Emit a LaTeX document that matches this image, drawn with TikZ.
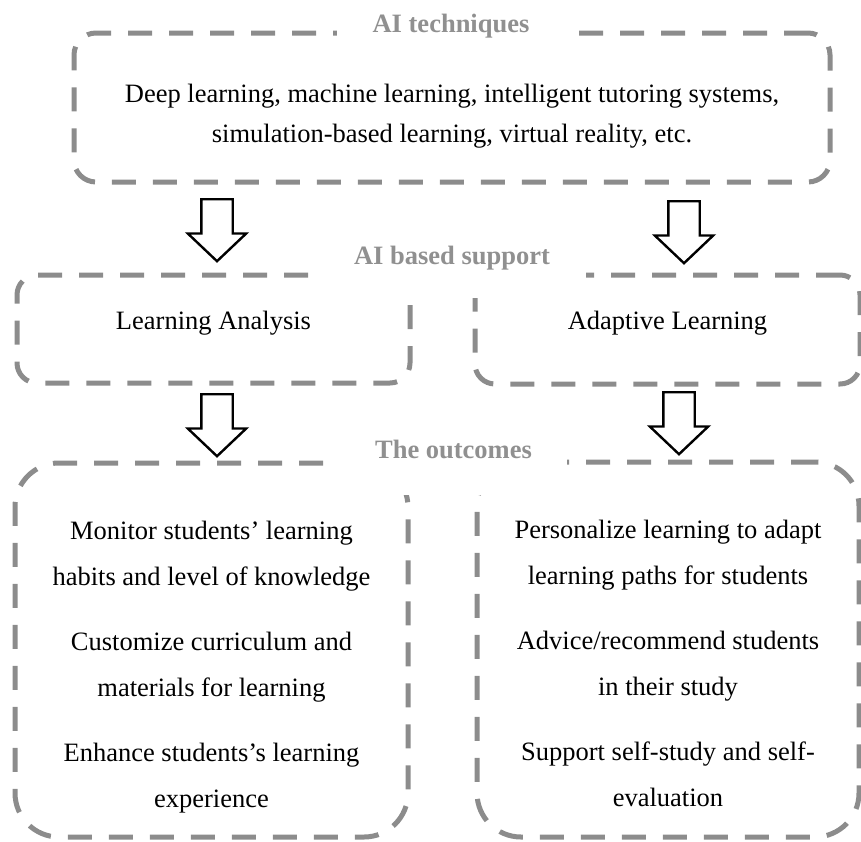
\documentclass[tikz,border=0pt]{standalone}
\usepackage{fontspec}
\setmainfont{Liberation Serif}
\usetikzlibrary{shapes.arrows}
\definecolor{dashgray}{HTML}{8C8C8C}
\definecolor{titlegray}{HTML}{909090}

\begin{document}
\begin{tikzpicture}[x=0.5pt, y=-0.5pt, font=\fontsize{13.25}{23}\selectfont,
  dashbox/.style={draw=dashgray, line width=2.5pt, dash pattern=on 12pt off 8.5pt,
    rounded corners=#1, align=center, inner sep=0pt},
  dashbox/.default=11pt,
  boxtitle/.style={fill=white, text=titlegray, font=\fontsize{13.25}{16}\selectfont\bfseries,
    inner ysep=2pt, anchor=base},
  bigarrow/.style={single arrow, draw=black, line width=1.2pt, fill=white, inner sep=7.25pt,
    minimum height=31pt, single arrow head extend=6.75pt, single arrow tip angle=93,
    shape border rotate=270, anchor=tail}]
\useasboundingbox (0,0) rectangle (861,841);

% techniques
\node[dashbox=11pt, minimum width=378pt, minimum height=74.5pt, text height=37.5pt,
  font=\fontsize{13.25}{20}\selectfont] (aitech) at (452,107.5)
  {Deep learning, machine learning, intelligent tutoring systems,\\simulation-based learning, virtual reality, etc.};
\node[boxtitle, minimum width=114pt] (techtitle) at (451,32) {AI techniques};

% support
\node[dashbox=10pt, minimum width=196.5pt, minimum height=54pt, text depth=9pt] (analysis) at (213.5,329) {Learning Analysis};
\node[dashbox=10pt, minimum width=192.5pt, minimum height=54.5pt, text depth=9pt] (adaptive) at (667.5,329.5) {Adaptive Learning};
\node[boxtitle, minimum width=134pt, text depth=15pt] (supporttitle) at (452,264) {AI based support};

% outcomes
\node[dashbox=22pt, minimum width=196.5pt, minimum height=187pt, text height=160pt] (outleft) at (211.5,650)
  {Monitor students’ learning\\habits and level of knowledge\\[9.5pt]Customize curriculum and\\materials for learning\\[9.5pt]Enhance students’s learning\\experience};
\node[dashbox=22pt, minimum width=191pt, minimum height=187.5pt, text height=157pt] (outright) at (668,649.5)
  {Personalize learning to adapt\\learning paths for students\\[9.5pt]Advice/recommend students\\in their study\\[9.5pt]Support self-study and self-\\evaluation};
\node[boxtitle, minimum width=113.5pt, text depth=16.5pt] (outtitle) at (453.5,458) {The outcomes};

\foreach \name/\x/\y in {toanalysis/217/198, toadaptive/684/200, tooutleft/217/393, tooutright/679/391}
  \node[bigarrow] (\name) at (\x,\y) {};
\end{tikzpicture}
\end{document}
